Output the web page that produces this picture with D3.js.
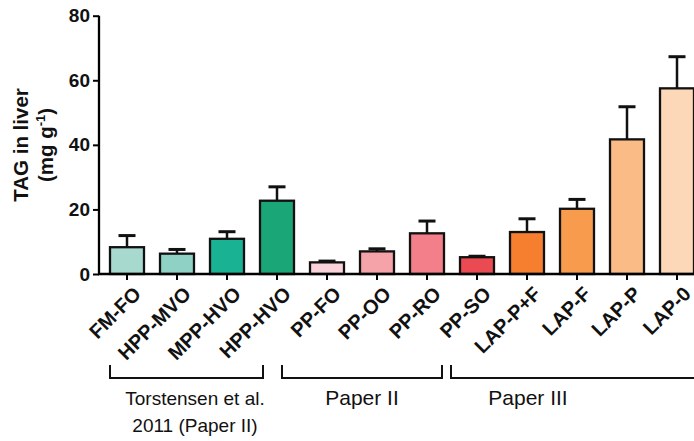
<!DOCTYPE html>
<html>
<head>
<meta charset="utf-8">
<script src="https://cdn.jsdelivr.net/npm/d3@7"></script>
<style>
  body { margin: 0; background: #fff; }
  svg { display: block; font-family: "Liberation Sans", Arial, sans-serif; }
</style>
</head>
<body>
<div class="chart"></div>
<script>
// TAG in liver, means with SD error bars
var diets = ["FM-FO", "HPP-MVO", "MPP-HVO", "HPP-HVO", "PP-FO", "PP-OO", "PP-RO", "PP-SO", "LAP-P+F", "LAP-F", "LAP-P", "LAP-0"];
var means = [8.3, 6.3, 10.9, 22.7, 3.6, 7.0, 12.6, 5.2, 13.0, 20.2, 41.7, 57.5];
var errors = [3.6, 1.3, 2.2, 4.3, 0.4, 0.8, 3.8, 0.3, 4.1, 2.9, 10.1, 9.8];
var colors = ["#a7d9cf", "#8fd1c5", "#19b394", "#1ba678", "#f9d3d9", "#f6a2a9", "#f27f89", "#ea4a52", "#f57f2e", "#f89b4c", "#fbbb87", "#fdd8b8"];
var yTicks = [0, 20, 40, 60, 80];
var groups = [
    { label: ["Torstensen et al.", "2011 (Paper II)"], first: 0, last: 3 },
    { label: ["Paper II"], first: 4, last: 7 },
    { label: ["Paper III"], first: 8, last: 11 }
];

var width = 694, height = 441;

var svg = d3.select(".chart").append("svg")
    .attr("width", width)
    .attr("height", height);

var x = d3.scaleBand()
    .domain(diets)
    .range([102, 702])
    .paddingInner(0.32)
    .paddingOuter(0.16);

var y = d3.scaleLinear()
    .domain([0, 80])
    .range([274, 15.7]);

var bw = x.bandwidth();
function cx(d) { return x(d) + bw / 2; }

// bars
svg.selectAll(".bar")
    .data(diets)
    .enter().append("rect")
    .attr("class", "bar")
    .attr("x", function (d) { return x(d); })
    .attr("y", function (d, i) { return y(means[i]); })
    .attr("width", bw)
    .attr("height", function (d, i) { return y(0) - y(means[i]); })
    .style("fill", function (d, i) { return colors[i]; })
    .style("stroke", "#111")
    .style("stroke-width", 2.3);

// error bars (upper only)
svg.selectAll(".err")
    .data(diets)
    .enter().append("line")
    .attr("class", "err")
    .attr("x1", cx).attr("x2", cx)
    .attr("y1", function (d, i) { return y(means[i]); })
    .attr("y2", function (d, i) { return y(means[i] + errors[i]); })
    .style("stroke", "#111")
    .style("stroke-width", 2.5);

svg.selectAll(".cap")
    .data(diets)
    .enter().append("line")
    .attr("class", "cap")
    .attr("x1", function (d) { return cx(d) - 8.5; })
    .attr("x2", function (d) { return cx(d) + 8.5; })
    .attr("y1", function (d, i) { return y(means[i] + errors[i]); })
    .attr("y2", function (d, i) { return y(means[i] + errors[i]); })
    .style("stroke", "#111")
    .style("stroke-width", 3);

// y axis
var yAxis = svg.append("g")
    .attr("transform", "translate(99,0)")
    .call(d3.axisLeft(y).tickValues(yTicks).tickSize(6).tickPadding(3));
yAxis.select(".domain").attr("d", "M0," + y(80) + "V" + y(0)).style("stroke-width", 2.3);
yAxis.selectAll(".tick line").style("stroke-width", 2);
yAxis.selectAll("text")
    .style("font-size", "19px")
    .style("font-weight", "bold")
    .style("fill", "#111");

// x axis
var xAxis = svg.append("g")
    .attr("transform", "translate(0," + y(0) + ")")
    .call(d3.axisBottom(x).tickSize(6).tickSizeOuter(0));
xAxis.select(".domain").attr("d", "M98,0H702").style("stroke-width", 2.3);
xAxis.selectAll(".tick line").style("stroke-width", 2);
xAxis.selectAll("text")
    .attr("text-anchor", "end")
    .attr("x", 0)
    .attr("y", 0)
    .attr("dy", "0.72em")
    .attr("transform", "translate(5,11) rotate(-45)")
    .style("font-size", "20px")
    .style("font-weight", "bold")
    .style("fill", "#111");

// y title
var yt = svg.append("text")
    .attr("transform", "translate(28,145) rotate(-90)")
    .attr("text-anchor", "middle")
    .style("font-size", "20.5px")
    .style("font-weight", "bold")
    .style("fill", "#111");
yt.append("tspan").attr("x", 0).attr("y", 0).text("TAG in liver");
var t2 = yt.append("tspan").attr("x", 0).attr("y", 25).text("(mg g");
t2.append("tspan").attr("dy", -8).style("font-size", "13px").text("-1");
yt.append("tspan").attr("dy", 8).text(")");

// study brackets
var nudges = [[-17, -14], [-45, -35], [-76, 200]];
var labelX = [195, 362, 528];
var labelSize = ["19px", "21px", "21px"];
groups.forEach(function (g, i) {
    var x1 = cx(diets[g.first]) + nudges[i][0];
    var x2 = cx(diets[g.last]) + nudges[i][1];
    svg.append("path")
        .attr("d", "M" + x1 + ",365V378H" + x2 + "V365")
        .style("fill", "none")
        .style("stroke", "#111")
        .style("stroke-width", 2);
    g.label.forEach(function (line, j) {
        svg.append("text")
            .attr("x", labelX[i])
            .attr("y", 405 + j * 27)
            .attr("text-anchor", "middle")
            .style("font-size", labelSize[i])
            .style("fill", "#111")
            .text(line);
    });
});
</script>
</body>
</html>
